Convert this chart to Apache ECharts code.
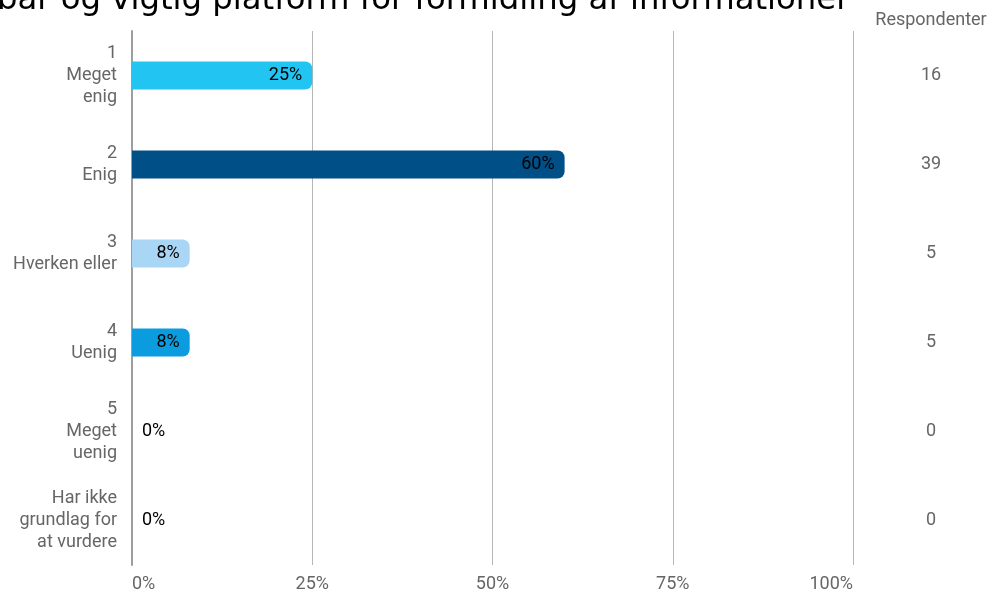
<!DOCTYPE html>
<html><head><meta charset="utf-8">
<script src="https://cdn.jsdelivr.net/npm/echarts@6/dist/echarts.min.js"></script>
<style>html,body{margin:0;padding:0;background:#fff}#c{width:1001px;height:594px}</style>
</head><body><div id="c"></div>
<script>
const titleText = "bar og vigtig platform for formidling af informationer";
const categories = ["1\nMeget\nenig", "2\nEnig", "3\nHverken eller", "4\nUenig", "5\nMeget\nuenig", "Har ikke\ngrundlag for\nat vurdere"];
const percentValues = [25, 60, 8, 8, 0, 0];
const respondents = [16, 39, 5, 5, 0, 0];
const barColors = ["#22c4f2", "#005087", "#a9d6f5", "#0a9cde", "#cccccc", "#cccccc"];
const xTicks = [0, 25, 50, 75, 100];

const chart = echarts.init(document.getElementById('c'));
const data = percentValues.map((v, i) => ({
  value: v,
  itemStyle: { color: barColors[i], borderRadius: [0, 7, 7, 0] },
  label: v > 0 ? { position: 'insideRight', distance: 10 } : { position: 'right', distance: 10 }
}));
chart.setOption({
  animation: false,
  graphic: [{
    type: 'text', left: -3, top: -15,
    style: { text: titleText, font: '32.3px "DejaVu Sans"', fill: '#000' }
  }],
  grid: { left: 132, right: 148, top: 31, bottom: 29 },
  xAxis: {
    type: 'value', min: 0, max: 100, interval: 25,
    axisLine: { show: false }, axisTick: { show: false },
    splitLine: { lineStyle: { color: '#b7b7b7', width: 1 } },
    axisLabel: {
      color: '#666', fontFamily: 'Roboto', fontSize: 18, margin: 10,
      formatter: v => v + '%', alignMinLabel: 'left', alignMaxLabel: 'right'
    }
  },
  yAxis: [{
    type: 'category', data: categories, inverse: true,
    axisLine: { show: true, lineStyle: { color: '#9e9e9e', width: 2 } },
    axisTick: { show: false },
    axisLabel: { color: '#666', fontFamily: 'Roboto', fontSize: 18, lineHeight: 22, margin: 15, align: 'right' }
  }, {
    type: 'category', data: respondents.map(String), inverse: true, position: 'right',
    name: 'Respondenter', nameLocation: 'start', nameGap: 2,
    nameTextStyle: { color: '#666', fontFamily: 'Roboto', fontSize: 18, align: 'center', verticalAlign: 'bottom', padding: [0, 0, 0, 156] },
    axisLine: { show: false }, axisTick: { show: false },
    axisLabel: { color: '#666', fontFamily: 'Roboto', fontSize: 18, margin: 78, align: 'center' }
  }],
  series: [{
    type: 'bar', data: data, barWidth: 28, yAxisIndex: 0,
    label: {
      show: true, color: '#000', fontFamily: 'Roboto', fontSize: 18,
      formatter: p => p.value + '%'
    }
  }]
});
</script></body></html>
